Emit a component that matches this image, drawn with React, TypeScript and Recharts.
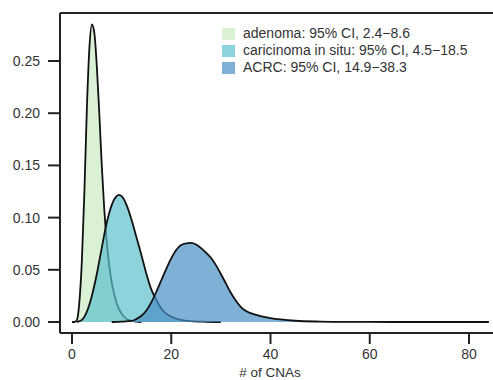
import React from "react";
import { ComposedChart, Area, XAxis, YAxis, Legend, ReferenceLine } from "recharts";

const adenomaX = [0, 0.5, 1, 1.5, 2, 2.5, 3, 3.5, 4, 4.5, 5, 5.5, 6, 6.5, 7, 7.5, 8, 9, 10, 11, 12, 13, 14];
const adenomaY = [0, 0, 0.002, 0.02, 0.06, 0.125, 0.205, 0.262, 0.285, 0.277, 0.245, 0.2, 0.15, 0.108, 0.077, 0.054, 0.038, 0.018, 0.008, 0.003, 0.0012, 0.0004, 0];

const carcinomaX = [1, 2, 3, 4, 5, 6, 7, 8, 9, 9.5, 10, 11, 12, 13, 14, 15, 16, 17, 18, 19, 20, 22, 24, 27, 30];
const carcinomaY = [0, 0.002, 0.01, 0.025, 0.046, 0.071, 0.095, 0.112, 0.1205, 0.1218, 0.1205, 0.112, 0.098, 0.081, 0.064, 0.046, 0.031, 0.021, 0.013, 0.008, 0.005, 0.002, 0.0008, 0.0002, 0];

const acrcX = [8, 10, 12, 13, 14, 15, 16, 17, 18, 19, 20, 21, 22, 23, 24, 25, 26, 27, 28, 29, 30, 31, 32, 33, 34, 35, 36, 38, 40, 42, 45, 50, 55, 65, 84];
const acrcY = [0, 0.0003, 0.001, 0.003, 0.006, 0.011, 0.019, 0.029, 0.04, 0.051, 0.061, 0.069, 0.0737, 0.0754, 0.0757, 0.0742, 0.0708, 0.0665, 0.0615, 0.0545, 0.046, 0.037, 0.028, 0.0205, 0.0145, 0.0107, 0.0085, 0.0057, 0.0038, 0.0025, 0.0012, 0.0004, 0.0001, 0, 0];

const xTicks = [0, 20, 40, 60, 80];
const yTicks = [0, 0.05, 0.1, 0.15, 0.2, 0.25];
const xDomain = [-2.418, 85.04];
const yDomain = [-0.01054, 0.296];

const seriesNames = [
  "adenoma: 95% CI, 2.4\u22128.6",
  "caricinoma in situ: 95% CI, 4.5\u221218.5",
  "ACRC: 95% CI, 14.9\u221238.3",
];
const seriesColors = ["#ccebc5", "#5cc0cd", "#488ec4"];

const toRows = (xs: number[], ys: number[]) => xs.map((x, i) => ({ x, y: ys[i] }));
const adenomaData = toRows(adenomaX, adenomaY);
const carcinomaData = toRows(carcinomaX, carcinomaY);
const acrcData = toRows(acrcX, acrcY);

const FONT = "'Liberation Sans', Arial, Helvetica, sans-serif";
const AXIS = "#222";

const LegendContent = () => (
  <div style={{ fontFamily: FONT, fontSize: 14, color: "#333", lineHeight: "17px" }}>
    {seriesNames.map((n, i) => (
      <div key={n} style={{ display: "flex", alignItems: "center", whiteSpace: "nowrap" }}>
        <span
          style={{
            display: "inline-block",
            width: 13,
            height: 12,
            background: seriesColors[i],
            opacity: 0.7,
            marginRight: 8,
          }}
        />
        <span>{n}</span>
      </div>
    ))}
  </div>
);

export default function App() {
  return (
    <div style={{ position: "absolute", left: 0, top: 0, width: 493, height: 380, overflow: "hidden", background: "#fff" }}>
      <ComposedChart width={500} height={380} margin={{ top: 13, right: 6, left: 0, bottom: 0 }}>
        <XAxis
          type="number"
          dataKey="x"
          domain={xDomain}
          allowDataOverflow
          ticks={xTicks}
          height={47}
          tickSize={11}
          tickMargin={5}
          axisLine={{ stroke: AXIS, strokeWidth: 2 }}
          tickLine={{ stroke: AXIS, strokeWidth: 2 }}
          tick={{ fill: "#333", fontSize: 14, fontFamily: FONT }}
          label={(props: any) => {
            const vb = props.viewBox || {};
            return (
              <text
                x={vb.x + vb.width / 2 - 7}
                y={377}
                textAnchor="middle"
                fill="#333"
                fontSize={13.5}
                fontFamily={FONT}
              >
                # of CNAs
              </text>
            );
          }}
        />
        <YAxis
          type="number"
          domain={yDomain}
          allowDataOverflow
          ticks={yTicks}
          width={60}
          tickSize={12}
          tickMargin={8}
          tickFormatter={(v: number) => v.toFixed(2)}
          axisLine={{ stroke: AXIS, strokeWidth: 2 }}
          tickLine={{ stroke: AXIS, strokeWidth: 2 }}
          tick={{ fill: "#333", fontSize: 14, fontFamily: FONT }}
        />
        <ReferenceLine y={yDomain[1]} stroke={AXIS} strokeWidth={2} />
        <Legend
          layout="vertical"
          align="center"
          verticalAlign="middle"
          content={LegendContent}
          wrapperStyle={{ left: 222, top: 25, width: 270 }}
        />
        <Area
          data={adenomaData}
          dataKey="y"
          type="monotone"
          baseValue={0}
          fill={seriesColors[0]}
          fillOpacity={0.7}
          stroke="#111"
          strokeWidth={1.8}
          isAnimationActive={false}
          dot={false}
          activeDot={false}
        />
        <Area
          data={carcinomaData}
          dataKey="y"
          type="monotone"
          baseValue={0}
          fill={seriesColors[1]}
          fillOpacity={0.7}
          stroke="#111"
          strokeWidth={1.8}
          isAnimationActive={false}
          dot={false}
          activeDot={false}
        />
        <Area
          data={acrcData}
          dataKey="y"
          type="monotone"
          baseValue={0}
          fill={seriesColors[2]}
          fillOpacity={0.7}
          stroke="#111"
          strokeWidth={1.8}
          isAnimationActive={false}
          dot={false}
          activeDot={false}
        />
      </ComposedChart>
    </div>
  );
}
